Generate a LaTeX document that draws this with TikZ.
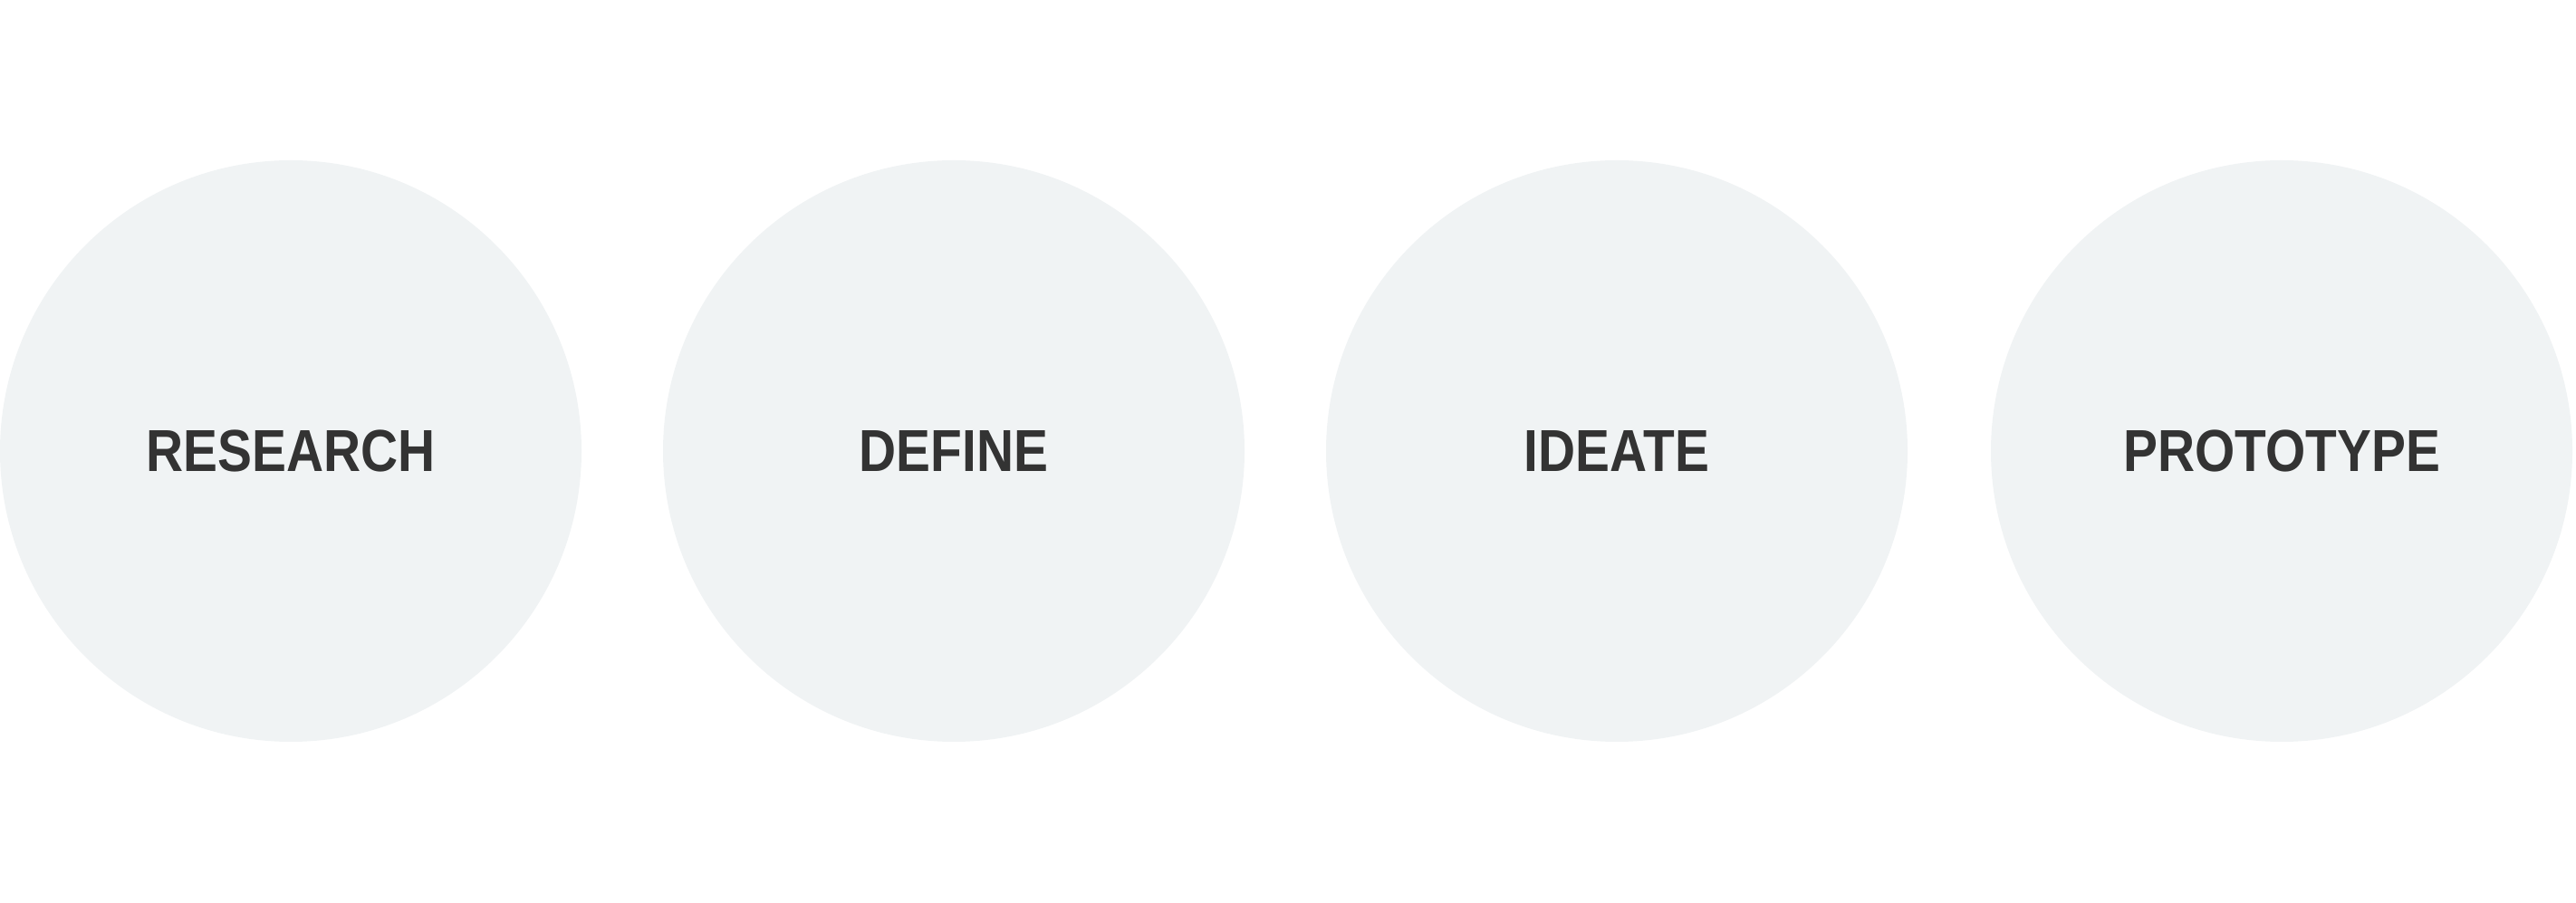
\documentclass[tikz,border=0pt]{standalone}
\usepackage{fontspec}
\newfontfamily\phasefont{Liberation Sans}[BoldFont={* Bold}, FakeStretch=0.87]
\usepackage{xcolor}
\definecolor{phasefill}{RGB}{240,243,244}
\definecolor{phasetext}{RGB}{51,51,51}

\begin{document}
\begin{tikzpicture}[
  phase/.style={circle, fill=phasefill, draw=none, inner sep=0pt,
    minimum size=6.42cm, text=phasetext,
    font=\phasefont\bfseries\fontsize{18.6}{20}\selectfont}
]
  % Page frame
  \useasboundingbox (0,0) rectangle (28.44,9.96);

  % Phase circles
  \node[phase] (research)  at (3.21,4.98)  {RESEARCH};
  \node[phase] (define)    at (10.53,4.98) {DEFINE};
  \node[phase] (ideate)    at (17.85,4.98) {IDEATE};
  \node[phase] (prototype) at (25.19,4.98) {PROTOTYPE};

\end{tikzpicture}
\end{document}
